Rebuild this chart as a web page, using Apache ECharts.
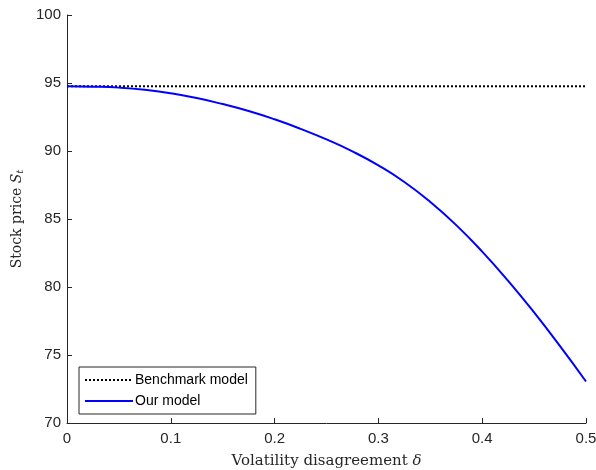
<!DOCTYPE html>
<html>
<head>
<meta charset="utf-8">
<script src="https://cdn.jsdelivr.net/npm/echarts@6/dist/echarts.min.js"></script>
<style>
  html, body { margin: 0; padding: 0; background: #fff; }
  #chart { width: 596px; height: 470px; }
</style>
</head>
<body>
<div id="chart"></div>
<script>
// Volatility disagreement grid (delta)
const delta = [0, 0.025, 0.05, 0.075, 0.1, 0.125, 0.15, 0.175, 0.2, 0.225, 0.25,
               0.275, 0.3, 0.325, 0.35, 0.375, 0.4, 0.425, 0.45, 0.475, 0.5];
// Stock price under our model
const ourModel = [94.76, 94.73, 94.66, 94.50, 94.24, 93.89, 93.45, 92.94, 92.33, 91.63, 90.85,
                  89.97, 88.94, 87.72, 86.25, 84.55, 82.60, 80.45, 78.13, 75.65, 73.05];
// Benchmark model price (independent of delta)
const benchmarkDelta = [0, 0.5];
const benchmarkPrice = [94.76, 94.76];

const xTicks = [0, 0.1, 0.2, 0.3, 0.4, 0.5];
const yTicks = [70, 75, 80, 85, 90, 95, 100];

const axisColor = '#262626';
const tickFont = 'Liberation Sans, Arial, Helvetica, sans-serif';
const serifFont = 'DejaVu Serif, serif';

const chart = echarts.init(document.getElementById('chart'), null, { renderer: 'canvas' });

chart.setOption({
  backgroundColor: '#ffffff',
  animation: false,
  grid: { left: 67, right: 10, top: 15, bottom: 47, containLabel: false, outerBoundsMode: 'none' },
  xAxis: {
    type: 'value',
    min: xTicks[0],
    max: xTicks[xTicks.length - 1],
    interval: 0.1,
    name: '{n|Volatility disagreement }{i|δ}',
    nameLocation: 'middle',
    nameGap: 31,
    nameTextStyle: {
      rich: {
        n: { fontFamily: serifFont, fontSize: 15, color: axisColor },
        i: { fontFamily: serifFont, fontSize: 15, fontStyle: 'italic', color: axisColor }
      }
    },
    axisLine: { show: true, lineStyle: { color: axisColor, width: 1 } },
    axisTick: { show: true, inside: true, length: 5, lineStyle: { color: axisColor } },
    axisLabel: {
      color: axisColor, fontFamily: tickFont, fontSize: 15, margin: 8,
      formatter: v => (v === 0 ? '0' : String(Math.round(v * 10) / 10))
    },
    splitLine: { show: false }
  },
  yAxis: {
    type: 'value',
    min: yTicks[0],
    max: yTicks[yTicks.length - 1],
    interval: 5,
    name: '{n|Stock price }{i|S}{s|t}',
    nameLocation: 'middle',
    nameGap: 37,
    nameRotate: 90,
    nameTextStyle: {
      rich: {
        n: { fontFamily: serifFont, fontSize: 14, color: axisColor },
        i: { fontFamily: serifFont, fontSize: 14, fontStyle: 'italic', color: axisColor },
        s: { fontFamily: serifFont, fontSize: 10, fontStyle: 'italic', color: axisColor,
             verticalAlign: 'bottom', padding: [6, 0, 0, 0] }
      }
    },
    axisLine: { show: true, lineStyle: { color: axisColor, width: 1 } },
    axisTick: { show: true, inside: true, length: 5, lineStyle: { color: axisColor } },
    axisLabel: { color: axisColor, fontFamily: tickFont, fontSize: 15, margin: 6 },
    splitLine: { show: false }
  },
  legend: {
    orient: 'vertical',
    left: 79,
    top: 367,
    width: 170,
    backgroundColor: '#ffffff',
    borderColor: axisColor,
    borderWidth: 1,
    borderRadius: 0,
    padding: [6, 8, 6, 5],
    itemWidth: 48,
    itemHeight: 12,
    itemGap: 7,
    itemStyle: { opacity: 0 },
    textStyle: { fontFamily: tickFont, fontSize: 14, color: '#000', padding: [0, 0, 0, -3] },
    data: ['Benchmark model', 'Our model']
  },
  series: [
    {
      name: 'Benchmark model',
      type: 'line',
      data: benchmarkDelta.map((d, i) => [d, benchmarkPrice[i]]),
      showSymbol: false,
      symbol: 'none',
      lineStyle: { color: '#000000', width: 2, type: [2, 2] },
      itemStyle: { color: '#000000' },
      z: 2
    },
    {
      name: 'Our model',
      type: 'line',
      data: delta.map((d, i) => [d, ourModel[i]]),
      smooth: true,
      showSymbol: false,
      symbol: 'none',
      lineStyle: { color: '#0000ff', width: 2 },
      itemStyle: { color: '#0000ff' },
      z: 3
    }
  ]
});
</script>
</body>
</html>
